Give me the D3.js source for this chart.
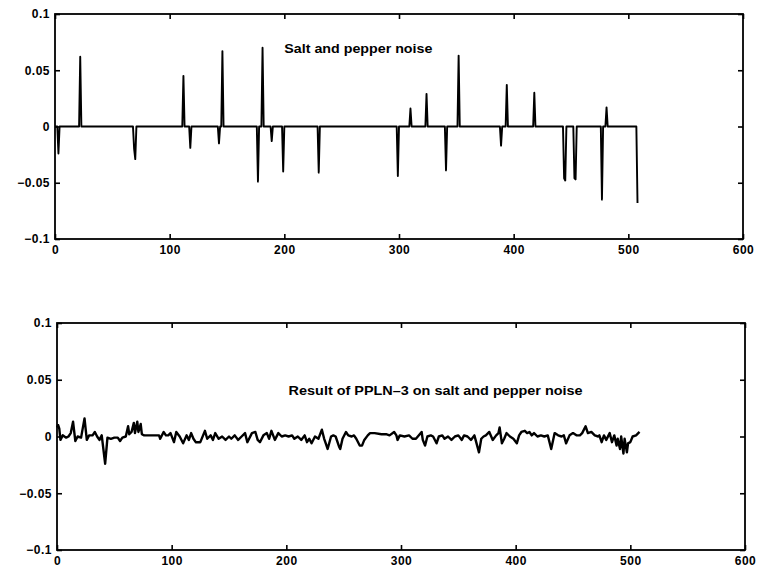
<!DOCTYPE html>
<html>
<head>
<meta charset="utf-8">
<script src="https://cdn.jsdelivr.net/npm/d3@7"></script>
<style>
  html, body { margin: 0; padding: 0; background: #fff; }
  svg text { font-family: "Liberation Sans", Arial, Helvetica, sans-serif; fill: #000; }
</style>
</head>
<body>
<svg id="chart" width="760" height="573"></svg>
<script>
// Axis ticks shared by both panels
const xTicks = [0, 100, 200, 300, 400, 500, 600];
const yTicks = [-0.1, -0.05, 0, 0.05, 0.1];
const yTickLabels = ["\u22120.1", "\u22120.05", "0", "0.05", "0.1"];

// Salt and pepper noise: signal length and the samples hit by an impulse
const noiseLength = 509;
const noiseIndex = [3, 22, 69, 70, 112, 118, 143, 146, 177, 181, 189, 199, 230,
  299, 310, 324, 341, 352, 389, 394, 418, 444, 445, 453, 454, 477, 481, 508];
const noiseValue = [-0.024, 0.062, -0.020, -0.029, 0.045, -0.019, -0.015, 0.067, -0.049, 0.070, -0.013, -0.040, -0.041,
  -0.044, 0.016, 0.029, -0.039, 0.063, -0.017, 0.037, 0.030, -0.046, -0.048, -0.046, -0.047, -0.065, 0.017, -0.068];

// Output of the PPLN-3 filter on the same noise
const filteredIndex = [
  0,1,2,3,5,8,10,12,14,16,18,21,24,26,28,31,33,35,37,39,
  42,44,47,50,53,55,57,60,62,63,65,67,68,70,71,73,74,76,80,85,
  89,90,93,95,97,99,102,104,107,110,113,115,117,119,121,125,129,131,134,136,
  138,141,144,147,150,152,155,158,161,164,166,170,173,175,177,180,183,185,187,190,
  193,196,199,202,205,207,210,213,216,218,220,222,225,228,231,233,234,236,239,241,
  243,246,247,249,252,254,257,259,261,264,266,268,271,273,277,283,287,290,294,296,
  297,299,303,307,310,313,318,319,321,323,326,328,331,333,336,338,341,344,347,350,
  353,355,358,361,364,368,370,372,374,377,380,383,385,386,388,390,392,395,398,401,
  403,405,408,410,412,414,416,419,422,425,428,431,434,437,440,442,444,447,450,453,
  456,458,461,463,466,469,472,473,475,477,479,482,484,486,488,489,491,492,494,495,
  497,498,500,502,505,508];
const filteredValue = [
  0.008,0.010,0.007,-0.003,0.001,-0.001,0,0.003,0.013,-0.004,0,-0.001,0.016,-0.003,0.001,0.001,0.004,0,-0.003,0.001,
  -0.024,-0.001,-0.002,-0.001,-0.001,-0.004,-0.001,0,0.009,0.002,0.004,0.012,0.003,0.013,0.004,0.011,0.002,0.001,0.001,0.001,
  0.001,-0.002,0.004,0.001,0.001,0.003,-0.005,0.004,0,-0.006,0.001,-0.003,0.003,-0.002,-0.005,-0.005,0.005,-0.002,0.001,-0.003,
  0.003,-0.002,0,-0.003,0,-0.002,0.001,-0.003,0,0.003,-0.005,0.003,0.004,-0.003,-0.005,0.001,0.003,-0.002,0.005,-0.003,
  0.003,0,0.001,0,0.001,-0.002,0,-0.003,0.001,-0.005,-0.002,-0.006,0,-0.002,0.006,-0.002,-0.005,-0.011,0,0.001,
  0,-0.009,-0.011,-0.002,0.004,0.001,0,0.001,-0.002,-0.008,-0.008,-0.003,0.001,0.003,0.003,0.002,0.002,0.001,0.004,0.001,
  -0.003,0.001,0,0.001,-0.002,-0.002,0.004,-0.003,-0.008,0,0.001,0,-0.006,0,0.001,-0.002,0,-0.003,0,0.001,
  -0.003,0.001,0,-0.003,0.001,-0.014,-0.002,0,0.001,0.004,-0.003,0.001,0.003,0.008,-0.006,-0.002,0.003,0,-0.002,-0.006,
  0.001,0.004,0.005,0.003,0.004,0.001,0.003,0,0.001,0,0.001,-0.011,0.003,0.001,0,0.001,-0.006,0.001,0.003,0.001,
  0.001,0.003,0.009,0.003,0.004,0.001,0,0.001,-0.005,0.001,-0.003,0.003,-0.005,0.001,-0.008,-0.002,-0.011,0,-0.015,-0.002,
  -0.014,-0.006,-0.005,0,0.001,0.004];

const panelTitles = ["Salt and pepper noise", "Result of PPLN\u20133 on salt and pepper noise"];
const titleAnchorX = [200, 202];
const titleAnchorY = [0.065, 0.037];

// Full noisy signal: zero everywhere except the impulse samples
const impulses = new Map(noiseIndex.map((k, i) => [k, noiseValue[i]]));
const noiseSeries = d3.range(noiseLength).map(k => [k, impulses.has(k) ? impulses.get(k) : 0]);
const filteredSeries = filteredIndex.map((k, i) => [k, filteredValue[i]]);

const svg = d3.select("#chart");
svg.append("rect").attr("width", 760).attr("height", 573).attr("fill", "#fff");

const panels = [
  { left: 55, right: 743, top: 14, bottom: 239, series: noiseSeries, width: 1.9, titleLen: 148 },
  { left: 57, right: 745, top: 323, bottom: 550, series: filteredSeries, width: 2.4, titleLen: 294 }
];

panels.forEach((p, idx) => {
  const x = d3.scaleLinear().domain([0, 600]).range([p.left, p.right]);
  const y = d3.scaleLinear().domain([-0.1, 0.1]).range([p.bottom, p.top]);
  const g = svg.append("g");

  // bottom axis with labels, ticks pointing inward
  const bx = g.append("g").attr("transform", `translate(0,${p.bottom})`)
    .call(d3.axisBottom(x).tickValues(xTicks).tickSizeInner(-5).tickSizeOuter(0).tickPadding(6).tickFormat(d3.format("d")));
  // left axis with labels
  const ly = g.append("g").attr("transform", `translate(${p.left},0)`)
    .call(d3.axisLeft(y).tickValues(yTicks).tickSizeInner(-5).tickSizeOuter(0).tickPadding(5)
      .tickFormat((d, i) => yTickLabels[i]));
  // top and right axes: ticks only
  const tx = g.append("g").attr("transform", `translate(0,${p.top})`)
    .call(d3.axisTop(x).tickValues(xTicks).tickSizeInner(-5).tickSizeOuter(0).tickFormat(""));
  const ry = g.append("g").attr("transform", `translate(${p.right},0)`)
    .call(d3.axisRight(y).tickValues(yTicks).tickSizeInner(-5).tickSizeOuter(0).tickFormat(""));

  [bx, ly, tx, ry].forEach(a => {
    a.select(".domain").remove();
    a.selectAll(".tick line").attr("stroke", "#000").attr("stroke-width", 1.6);
    a.selectAll(".tick text").attr("font-size", 12).attr("font-weight", "bold")
      .attr("letter-spacing", "0.5px").attr("fill", "#000")
      .style("font-family", '"Liberation Sans", Arial, sans-serif');
  });

  // data line
  const line = d3.line().x(d => x(d[0])).y(d => y(d[1]));
  g.append("path").datum(p.series)
    .attr("d", line)
    .attr("fill", "none")
    .attr("stroke", "#000")
    .attr("stroke-width", p.width)
    .attr("stroke-linejoin", "round");

  // frame
  g.append("rect")
    .attr("x", p.left).attr("y", p.top)
    .attr("width", p.right - p.left).attr("height", p.bottom - p.top)
    .attr("fill", "none").attr("stroke", "#000").attr("stroke-width", 1.8);

  // panel annotation
  g.append("text")
    .attr("x", x(titleAnchorX[idx]))
    .attr("y", y(titleAnchorY[idx]))
    .attr("font-size", 12.5)
    .attr("font-weight", "bold")
    .attr("textLength", p.titleLen)
    .attr("lengthAdjust", "spacingAndGlyphs")
    .text(panelTitles[idx]);
});
</script>
</body>
</html>
